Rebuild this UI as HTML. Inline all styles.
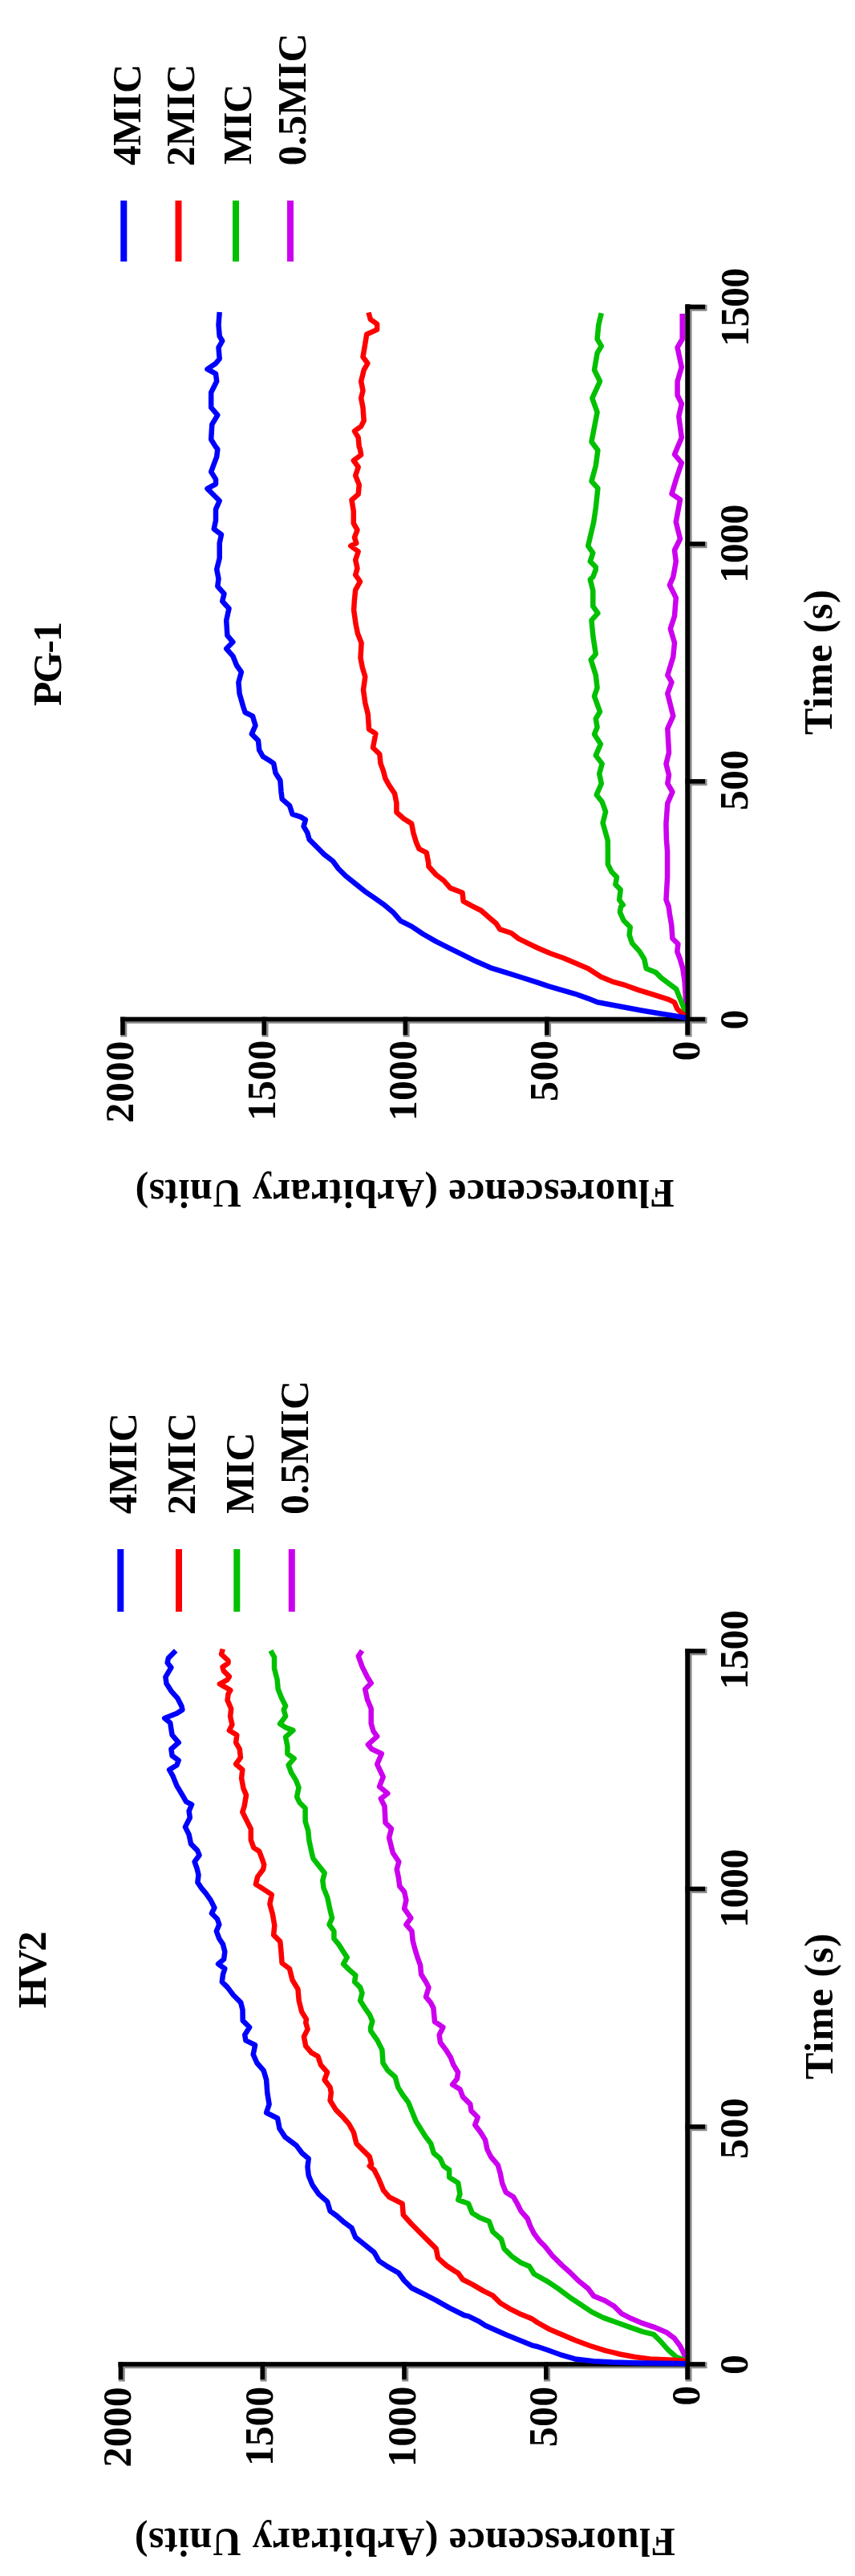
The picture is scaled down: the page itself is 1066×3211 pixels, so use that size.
<!DOCTYPE html>
<html><head><meta charset="utf-8"><style>
html,body{margin:0;padding:0;background:#fff;}
svg{display:block;}
text{font-family:"Liberation Serif", serif;font-weight:bold;fill:#000;}
</style></head><body>
<svg width="1066" height="3211" viewBox="0 0 1066 3211">
<rect width="1066" height="3211" fill="#fff"/>
<rect x="854.55" y="379.50" width="8.00" height="913.00" fill="#888"/>
<rect x="150.00" y="1267.75" width="731.50" height="8.00" fill="#888"/>
<rect x="854.55" y="379.75" width="26.95" height="8.00" fill="#888"/>
<rect x="854.55" y="675.25" width="26.95" height="8.00" fill="#888"/>
<rect x="854.55" y="971.25" width="26.95" height="8.00" fill="#888"/>
<rect x="150.25" y="1267.75" width="8.00" height="24.75" fill="#888"/>
<rect x="326.55" y="1267.75" width="8.00" height="24.75" fill="#888"/>
<rect x="502.65" y="1267.75" width="8.00" height="24.75" fill="#888"/>
<rect x="679.05" y="1267.75" width="8.00" height="24.75" fill="#888"/>
<rect x="854.55" y="379.50" width="5.50" height="910.50"/>
<rect x="150.00" y="1267.75" width="729.00" height="5.50"/>
<rect x="854.55" y="379.75" width="24.45" height="5.50"/>
<rect x="854.55" y="675.25" width="24.45" height="5.50"/>
<rect x="854.55" y="971.25" width="24.45" height="5.50"/>
<rect x="150.25" y="1267.75" width="5.50" height="22.25"/>
<rect x="326.55" y="1267.75" width="5.50" height="22.25"/>
<rect x="502.65" y="1267.75" width="5.50" height="22.25"/>
<rect x="679.05" y="1267.75" width="5.50" height="22.25"/>
<rect x="150.3" y="250" width="8" height="76" fill="#0000ff"/>
<rect x="218.5" y="250" width="8" height="76" fill="#ff0000"/>
<rect x="290.0" y="250" width="8" height="76" fill="#00c000"/>
<rect x="358.0" y="250" width="8" height="76" fill="#cc00ee"/>
<path d="M856.5,1265.0 L854.8,1242.3 L853.6,1223.6 L851.3,1207.2 L847.8,1195.5 L844.3,1186.1 L845.4,1176.8 L838.4,1169.8 L837.3,1153.4 L834.9,1139.4 L833.7,1130.0 L830.5,1121.6 L832.1,1093.2 L832.1,1061.6 L830.9,1046.3 L830.5,1030.0 L830.5,1025.8 L832.3,1001.2 L838.4,987.2 L832.3,976.7 L834.0,966.1 L830.5,952.1 L834.0,938.1 L832.3,908.2 L839.3,892.5 L832.3,864.4 L837.5,850.4 L832.3,841.6 L839.3,818.8 L841.0,801.2 L835.8,783.7 L841.0,767.9 L842.8,745.1 L834.9,729.3 L839.3,719.1 L841.0,710.0 L842.8,699.8 L841.0,685.8 L848.0,671.8 L842.8,650.7 L848.0,622.6 L837.5,615.6 L842.8,598.0 L849.8,577.0 L841.0,566.5 L849.8,545.4 L846.3,519.1 L849.8,503.3 L844.6,492.8 L844.6,475.3 L849.8,457.7 L844.6,433.2 L850.7,422.6 L850.7,391.0" stroke="#cc00ee" stroke-width="6.5" fill="none" stroke-linejoin="round" stroke-linecap="butt"/>
<path d="M856.5,1266.0 L852.5,1256.3 L847.8,1244.6 L843.1,1232.9 L833.7,1225.9 L824.4,1218.9 L817.4,1211.9 L805.7,1207.2 L803.3,1195.5 L797.5,1186.1 L788.1,1175.6 L784.6,1165.1 L785.8,1155.7 L777.6,1147.5 L772.9,1137.0 L774.1,1130.0 L776.8,1127.9 L772.1,1121.6 L773.7,1109.0 L767.4,1102.6 L769.0,1093.2 L762.6,1086.8 L757.9,1077.4 L757.9,1064.7 L757.8,1047.9 L751.6,1025.8 L755.1,1011.8 L750.7,999.5 L743.7,990.7 L749.8,976.7 L747.2,964.4 L750.7,952.1 L742.8,941.6 L748.9,927.5 L741.0,915.3 L744.6,906.5 L742.8,896.0 L748.0,887.2 L741.0,867.9 L744.6,857.4 L742.8,841.6 L736.7,822.3 L742.8,815.3 L739.3,792.5 L737.5,773.2 L745.4,764.4 L739.3,755.6 L739.3,736.3 L735.8,722.3 L739.3,719.1 L742.8,710.0 L742.8,706.8 L735.8,699.8 L739.3,689.3 L733.2,680.5 L740.2,650.7 L742.8,633.2 L745.4,608.6 L737.5,599.8 L742.8,580.5 L745.4,561.2 L737.5,550.7 L740.2,536.7 L744.6,513.9 L738.4,496.3 L748.0,475.3 L741.0,461.2 L744.6,440.2 L749.8,431.4 L744.6,422.6 L746.3,405.1 L749.8,390.2" stroke="#00c000" stroke-width="6.5" fill="none" stroke-linejoin="round" stroke-linecap="butt"/>
<path d="M856.5,1267.5 L850.1,1263.3 L844.3,1257.5 L840.8,1249.3 L833.7,1245.8 L815.0,1239.9 L796.3,1234.1 L779.9,1228.2 L763.6,1223.6 L749.5,1217.7 L733.2,1207.2 L716.8,1200.2 L702.7,1194.3 L686.4,1188.5 L670.0,1181.5 L658.4,1175.9 L646.7,1170.1 L637.4,1163.0 L623.3,1158.4 L618.7,1151.3 L609.3,1143.2 L599.9,1135.0 L588.2,1129.1 L577.7,1123.3 L576.5,1112.7 L561.3,1106.9 L553.2,1097.5 L543.8,1090.5 L534.4,1080.0 L534.2,1075.7 L531.8,1062.8 L522.5,1058.1 L518.9,1049.9 L515.4,1038.2 L513.1,1026.5 L503.7,1020.7 L494.4,1012.5 L494.4,1000.8 L492.0,989.1 L485.0,978.6 L480.4,970.4 L478.0,961.1 L474.5,951.7 L473.3,940.0 L465.0,932.0 L468.4,914.4 L460.0,909.1 L458.8,890.4 L455.3,876.3 L453.0,860.0 L455.3,843.6 L451.8,831.9 L449.5,820.2 L450.6,801.5 L446.0,789.8 L443.6,778.1 L441.1,760.2 L442.0,747.1 L443.2,735.4 L449.0,724.9 L443.2,716.7 L445.5,708.5 L443.2,698.0 L446.7,687.5 L437.3,680.5 L444.3,677.0 L442.0,669.9 L445.5,660.6 L440.8,652.4 L440.8,637.2 L438.5,623.2 L446.7,616.1 L447.8,604.4 L443.2,592.7 L446.7,582.2 L440.8,574.0 L450.2,567.0 L449.0,560.0 L447.8,557.1 L446.7,545.4 L442.0,537.3 L450.2,531.4 L453.7,524.4 L452.5,508.0 L450.2,496.3 L452.5,487.0 L450.2,475.3 L453.7,461.2 L458.4,453.0 L452.5,444.9 L454.9,430.8 L457.2,416.8 L470.1,410.9 L470.1,403.9 L461.9,398.1 L459.5,389.5" stroke="#ff0000" stroke-width="6.5" fill="none" stroke-linejoin="round" stroke-linecap="butt"/>
<path d="M857.1,1269.2 L840.8,1266.1 L822.0,1263.3 L801.0,1259.8 L782.3,1256.3 L763.6,1252.8 L744.9,1249.3 L733.2,1244.6 L716.8,1238.8 L700.4,1234.1 L684.0,1229.4 L670.0,1224.7 L649.1,1218.0 L630.4,1212.2 L611.6,1206.3 L592.9,1198.1 L576.5,1189.9 L560.2,1181.8 L543.8,1173.6 L527.4,1164.2 L513.4,1154.9 L499.4,1147.8 L489.9,1136.9 L478.0,1127.1 L466.3,1118.9 L454.6,1110.8 L442.9,1101.4 L431.2,1092.0 L421.9,1082.7 L414.9,1073.3 L404.3,1065.1 L395.0,1055.8 L385.6,1046.4 L383.3,1038.2 L378.6,1030.1 L380.9,1021.9 L375.1,1018.4 L364.6,1014.9 L361.1,1004.3 L351.7,996.1 L350.5,986.8 L349.4,972.7 L343.5,963.4 L341.2,951.7 L337.2,948.8 L327.8,943.0 L323.2,934.8 L322.0,923.1 L313.8,914.9 L318.5,904.4 L315.0,892.7 L305.6,888.0 L303.3,881.0 L298.6,864.6 L297.4,850.6 L300.9,837.7 L295.1,829.5 L290.4,817.8 L282.2,808.5 L290.4,800.3 L283.4,792.1 L282.2,773.4 L285.5,758.5 L277.2,749.5 L279.5,740.1 L271.3,730.8 L272.5,721.4 L270.2,709.7 L273.7,695.7 L273.7,677.0 L276.0,666.4 L266.7,659.4 L269.0,648.9 L269.0,634.9 L273.7,624.3 L266.7,617.3 L258.5,609.1 L269.0,603.3 L269.0,597.4 L263.2,588.1 L266.7,578.7 L270.2,569.4 L271.3,560.0 L269.0,557.1 L263.2,547.8 L264.3,529.1 L271.3,517.4 L263.2,508.0 L263.2,489.3 L270.2,475.3 L269.0,465.9 L258.5,460.1 L269.0,453.0 L273.7,447.2 L272.5,433.2 L277.2,425.0 L273.7,419.1 L272.5,405.1 L273.7,389.0" stroke="#0000ff" stroke-width="6.5" fill="none" stroke-linejoin="round" stroke-linecap="butt"/>
<rect x="854.55" y="379.50" width="5.50" height="910.50"/>
<text transform="translate(174.6,143.1) rotate(-90)" text-anchor="middle" font-size="50" textLength="126.21" lengthAdjust="spacing">4MIC</text>
<text transform="translate(242.0,143.6) rotate(-90)" text-anchor="middle" font-size="50" textLength="127.33" lengthAdjust="spacing">2MIC</text>
<text transform="translate(313.0,154.75) rotate(-90)" text-anchor="middle" font-size="50" textLength="100.26" lengthAdjust="spacing">MIC</text>
<text transform="translate(381.0,123.95) rotate(-90)" text-anchor="middle" font-size="50" textLength="165.25" lengthAdjust="spacing">0.5MIC</text>
<text transform="translate(75.6,827.45) rotate(-90)" text-anchor="middle" font-size="50" textLength="105.14" lengthAdjust="spacing">PG-1</text>
<text transform="translate(165.8,1348.7) rotate(-90)" text-anchor="middle" font-size="50" textLength="102.19" lengthAdjust="spacing">2000</text>
<text transform="translate(342.9,1346.8) rotate(-90)" text-anchor="middle" font-size="50" textLength="100.5" lengthAdjust="spacing">1500</text>
<text transform="translate(519.0,1347.0) rotate(-90)" text-anchor="middle" font-size="50" textLength="100.43" lengthAdjust="spacing">1000</text>
<text transform="translate(695.0,1334.9) rotate(-90)" text-anchor="middle" font-size="50" textLength="76.33" lengthAdjust="spacing">500</text>
<text transform="translate(872.0,1310.05) rotate(-90)" text-anchor="middle" font-size="50" textLength="16.68" lengthAdjust="spacing">0</text>
<text transform="translate(932.4,1271.0) rotate(-90)" text-anchor="middle" font-size="50" textLength="29.87" lengthAdjust="spacing">0</text>
<text transform="translate(932.4,972.5) rotate(-90)" text-anchor="middle" font-size="50" textLength="75.3" lengthAdjust="spacing">500</text>
<text transform="translate(932.3,677.65) rotate(-90)" text-anchor="middle" font-size="50" textLength="98.38" lengthAdjust="spacing">1000</text>
<text transform="translate(932.8,382.8) rotate(-90)" text-anchor="middle" font-size="50" textLength="98.36" lengthAdjust="spacing">1500</text>
<text transform="translate(1037.0,825.5) rotate(-90)" text-anchor="middle" font-size="50" textLength="181.05" lengthAdjust="spacing">Time (s)</text>
<text transform="translate(504.65,1470.6) rotate(180)" text-anchor="middle" font-size="50" textLength="672.02" lengthAdjust="spacing">Fluorescence (Arbitrary Units)</text>
<rect x="854.55" y="2055.00" width="8.00" height="913.50" fill="#888"/>
<rect x="147.50" y="2944.25" width="734.00" height="8.00" fill="#888"/>
<rect x="854.55" y="2055.25" width="26.95" height="8.00" fill="#888"/>
<rect x="854.55" y="2351.75" width="26.95" height="8.00" fill="#888"/>
<rect x="854.55" y="2648.25" width="26.95" height="8.00" fill="#888"/>
<rect x="147.75" y="2944.25" width="8.00" height="24.25" fill="#888"/>
<rect x="324.55" y="2944.25" width="8.00" height="24.25" fill="#888"/>
<rect x="501.25" y="2944.25" width="8.00" height="24.25" fill="#888"/>
<rect x="678.05" y="2944.25" width="8.00" height="24.25" fill="#888"/>
<rect x="854.55" y="2055.00" width="5.50" height="911.00"/>
<rect x="147.50" y="2944.25" width="731.50" height="5.50"/>
<rect x="854.55" y="2055.25" width="24.45" height="5.50"/>
<rect x="854.55" y="2351.75" width="24.45" height="5.50"/>
<rect x="854.55" y="2648.25" width="24.45" height="5.50"/>
<rect x="147.75" y="2944.25" width="5.50" height="21.75"/>
<rect x="324.55" y="2944.25" width="5.50" height="21.75"/>
<rect x="501.25" y="2944.25" width="5.50" height="21.75"/>
<rect x="678.05" y="2944.25" width="5.50" height="21.75"/>
<rect x="146.3" y="1931" width="8" height="78" fill="#0000ff"/>
<rect x="219.0" y="1931" width="8" height="78" fill="#ff0000"/>
<rect x="291.3" y="1931" width="8" height="78" fill="#00c000"/>
<rect x="359.8" y="1931" width="8" height="78" fill="#cc00ee"/>
<path d="M856.5,2945.0 L854.8,2940.4 L852.5,2933.3 L847.8,2924.0 L840.8,2914.6 L831.4,2907.6 L815.0,2900.6 L801.0,2895.9 L787.0,2890.1 L775.3,2884.2 L765.9,2874.9 L754.2,2867.8 L740.2,2862.0 L733.2,2852.6 L721.5,2843.3 L710.9,2832.7 L700.4,2823.4 L688.7,2811.7 L679.4,2800.0 L672.9,2793.6 L665.9,2784.2 L661.2,2774.9 L657.7,2765.5 L649.5,2756.1 L644.9,2746.8 L640.2,2738.6 L630.8,2732.7 L626.1,2721.1 L623.8,2709.4 L620.8,2698.9 L612.0,2688.4 L607.4,2679.1 L605.0,2667.4 L599.2,2658.0 L592.2,2648.7 L595.7,2639.3 L587.5,2631.1 L586.3,2622.9 L577.0,2613.6 L573.5,2604.2 L564.1,2598.4 L569.9,2591.3 L571.1,2583.2 L565.3,2573.8 L561.8,2564.4 L555.9,2555.1 L548.9,2545.7 L547.7,2536.4 L552.4,2527.0 L541.9,2520.0 L541.5,2514.8 L540.4,2503.1 L536.8,2496.1 L531.0,2489.1 L534.5,2477.4 L531.0,2470.4 L525.1,2461.0 L524.0,2449.3 L520.5,2439.9 L517.0,2428.2 L514.6,2418.9 L513.5,2407.2 L506.4,2399.0 L512.3,2390.8 L504.1,2379.1 L506.4,2368.6 L504.1,2358.1 L498.2,2351.1 L497.1,2341.7 L494.7,2330.0 L497.3,2320.7 L489.8,2309.5 L485.1,2290.7 L488.0,2279.5 L480.5,2272.0 L479.5,2251.5 L474.8,2242.1 L483.3,2235.5 L473.0,2227.1 L477.7,2215.0 L470.2,2199.1 L475.8,2186.0 L463.6,2180.3 L458.9,2174.7 L470.2,2164.4 L465.5,2157.9 L462.7,2148.5 L462.7,2129.8 L458.0,2118.6 L455.2,2105.5 L462.7,2098.0 L458.0,2090.5 L451.5,2077.4 L446.8,2064.3 L451.5,2057.5" stroke="#cc00ee" stroke-width="6.5" fill="none" stroke-linejoin="round" stroke-linecap="butt"/>
<path d="M856.5,2945.0 L852.5,2941.5 L843.1,2938.0 L833.7,2929.8 L824.4,2919.3 L815.0,2909.9 L801.0,2906.4 L784.6,2900.6 L768.2,2894.7 L751.9,2888.9 L737.8,2881.9 L723.8,2872.5 L709.8,2863.2 L695.7,2852.6 L681.7,2843.3 L665.9,2834.5 L660.1,2825.1 L649.5,2820.5 L637.8,2812.3 L628.5,2802.9 L625.0,2791.2 L614.4,2781.9 L609.8,2769.0 L598.1,2764.3 L588.7,2758.5 L584.0,2746.8 L571.2,2742.1 L573.5,2735.1 L571.2,2721.1 L560.1,2714.0 L560.1,2704.7 L553.1,2700.0 L548.9,2690.8 L540.7,2683.7 L537.2,2672.0 L530.2,2662.7 L524.3,2653.3 L518.5,2644.0 L513.8,2632.3 L509.1,2620.6 L502.1,2611.2 L496.3,2601.9 L492.7,2589.0 L483.4,2580.8 L477.5,2571.5 L476.4,2555.1 L470.5,2543.4 L462.3,2531.7 L462.0,2527.7 L464.3,2519.5 L460.8,2511.3 L455.0,2503.1 L449.1,2493.7 L451.5,2484.4 L449.1,2477.4 L442.1,2470.4 L443.3,2462.2 L435.1,2455.1 L428.1,2448.1 L432.7,2439.9 L428.1,2432.9 L422.2,2423.6 L416.4,2416.5 L416.4,2407.2 L410.5,2399.0 L414.0,2390.8 L411.7,2381.5 L408.2,2365.1 L403.5,2353.4 L402.3,2344.0 L404.7,2334.7 L390.5,2316.7 L388.8,2310.1 L385.3,2293.7 L384.2,2282.0 L380.6,2270.4 L380.6,2254.0 L373.6,2247.0 L370.1,2239.9 L372.5,2228.2 L368.9,2218.9 L363.1,2209.5 L359.6,2200.2 L366.6,2192.0 L358.4,2186.1 L358.4,2176.8 L356.1,2165.1 L365.4,2156.9 L356.1,2153.4 L349.1,2148.7 L356.1,2139.4 L353.7,2131.2 L356.1,2126.5 L351.4,2117.2 L346.7,2105.5 L345.6,2093.8 L342.0,2079.8 L342.0,2065.7 L337.4,2057.5" stroke="#00c000" stroke-width="6.5" fill="none" stroke-linejoin="round" stroke-linecap="butt"/>
<path d="M856.0,2942.7 L833.7,2941.5 L810.4,2940.4 L791.6,2938.0 L772.9,2934.5 L754.2,2929.8 L735.5,2924.0 L716.8,2917.0 L700.4,2909.9 L684.0,2902.9 L670.0,2895.0 L663.6,2890.6 L649.5,2884.8 L635.5,2877.8 L623.8,2870.8 L614.4,2861.4 L602.7,2855.6 L588.7,2847.4 L577.0,2841.5 L571.2,2833.3 L567.1,2831.0 L556.6,2824.0 L546.1,2814.6 L543.7,2802.9 L534.4,2793.6 L525.0,2784.2 L513.3,2772.5 L502.8,2760.8 L501.6,2746.8 L485.3,2738.6 L478.2,2730.4 L472.4,2716.4 L466.5,2704.7 L460.7,2700.0 L463.1,2697.8 L460.8,2688.4 L453.7,2681.4 L444.4,2672.0 L440.9,2658.0 L435.0,2647.5 L428.0,2639.3 L418.7,2629.9 L411.6,2618.2 L412.8,2608.9 L411.6,2601.9 L404.6,2592.5 L408.1,2583.2 L399.9,2573.8 L396.4,2563.3 L388.2,2558.6 L381.2,2550.4 L378.9,2538.7 L383.6,2529.4 L381.2,2521.2 L382.0,2517.1 L376.2,2507.8 L372.7,2493.7 L371.5,2479.7 L364.5,2468.0 L361.0,2454.0 L351.6,2447.0 L350.5,2432.9 L349.3,2420.1 L341.1,2411.9 L342.3,2400.2 L339.9,2386.1 L336.4,2373.3 L338.8,2361.6 L328.2,2354.6 L318.9,2348.7 L321.2,2339.4 L328.2,2330.0 L329.2,2324.2 L326.8,2317.1 L323.3,2307.8 L316.3,2303.1 L312.8,2293.7 L312.8,2279.7 L308.1,2270.4 L302.3,2258.7 L304.6,2251.6 L307.0,2237.6 L303.5,2229.4 L301.1,2216.5 L302.3,2206.0 L294.1,2199.0 L299.9,2190.8 L298.8,2180.3 L294.1,2172.1 L295.3,2162.7 L285.9,2156.9 L289.4,2149.9 L287.1,2139.4 L288.2,2130.0 L283.6,2119.4 L284.5,2111.7 L287.3,2106.8 L277.5,2101.1 L273.9,2099.0 L283.1,2094.1 L285.9,2089.9 L278.9,2082.9 L277.5,2078.0 L284.5,2073.1 L284.5,2070.0 L276.0,2062.0 L277.8,2055.5" stroke="#ff0000" stroke-width="6.5" fill="none" stroke-linejoin="round" stroke-linecap="butt"/>
<path d="M856.0,2946.3 L798.7,2945.5 L763.6,2944.6 L740.2,2943.2 L716.8,2940.4 L700.4,2935.7 L684.0,2929.8 L670.0,2925.0 L664.8,2923.9 L630.9,2910.3 L605.1,2898.8 L598.1,2894.2 L584.0,2887.1 L578.8,2886.0 L560.1,2876.6 L543.7,2867.3 L529.7,2860.2 L513.3,2852.0 L504.0,2842.7 L497.0,2833.3 L482.9,2825.1 L472.4,2818.1 L466.5,2807.6 L454.9,2798.2 L443.2,2788.9 L438.5,2777.2 L429.1,2770.2 L419.8,2762.0 L411.6,2756.1 L408.1,2744.4 L397.5,2735.1 L389.4,2723.4 L384.7,2711.7 L383.5,2701.2 L384.7,2690.8 L376.5,2683.7 L369.5,2674.4 L355.5,2663.9 L348.5,2653.3 L346.1,2640.5 L332.1,2633.5 L335.6,2622.9 L333.3,2608.9 L332.1,2592.5 L328.6,2580.8 L320.4,2571.5 L315.7,2560.9 L318.1,2549.2 L306.4,2543.4 L305.2,2536.4 L311.1,2527.0 L302.7,2518.6 L302.5,2505.4 L300.2,2496.1 L290.8,2486.7 L283.8,2477.4 L276.8,2470.4 L278.0,2461.0 L280.3,2454.0 L272.1,2448.1 L279.1,2442.3 L280.3,2432.9 L278.0,2423.6 L273.3,2416.5 L269.8,2407.2 L273.3,2399.0 L270.9,2392.0 L263.9,2385.0 L267.4,2378.0 L262.7,2368.6 L256.9,2360.4 L251.1,2353.4 L246.4,2346.4 L247.5,2337.0 L245.7,2329.4 L242.6,2320.6 L248.5,2312.5 L246.1,2306.6 L238.0,2298.4 L235.6,2286.7 L230.9,2277.4 L236.8,2265.7 L235.6,2257.5 L239.1,2249.3 L232.1,2245.8 L227.4,2237.6 L220.4,2225.9 L215.7,2214.2 L211.1,2206.0 L220.4,2200.2 L222.7,2194.3 L214.6,2188.5 L213.4,2180.3 L222.7,2172.1 L214.6,2162.7 L212.2,2147.5 L205.2,2141.7 L220.4,2135.8 L227.4,2131.2 L226.3,2126.5 L221.6,2117.2 L213.4,2107.8 L207.5,2098.5 L206.4,2090.3 L213.4,2078.6 L208.7,2072.7 L209.9,2066.9 L219.2,2057.5" stroke="#0000ff" stroke-width="6.5" fill="none" stroke-linejoin="round" stroke-linecap="butt"/>
<rect x="854.55" y="2055.00" width="5.50" height="911.00"/>
<text transform="translate(169.6,1824.15) rotate(-90)" text-anchor="middle" font-size="50" textLength="126.23" lengthAdjust="spacing">4MIC</text>
<text transform="translate(243.0,1824.65) rotate(-90)" text-anchor="middle" font-size="50" textLength="127.31" lengthAdjust="spacing">2MIC</text>
<text transform="translate(315.6,1836.15) rotate(-90)" text-anchor="middle" font-size="50" textLength="101.31" lengthAdjust="spacing">MIC</text>
<text transform="translate(384.0,1804.5) rotate(-90)" text-anchor="middle" font-size="50" textLength="167.23" lengthAdjust="spacing">0.5MIC</text>
<text transform="translate(56.9,2455.2) rotate(-90)" text-anchor="middle" font-size="50" textLength="96.11" lengthAdjust="spacing">HV2</text>
<text transform="translate(163.0,3025.3) rotate(-90)" text-anchor="middle" font-size="50" textLength="100.17" lengthAdjust="spacing">2000</text>
<text transform="translate(340.3,3024.4) rotate(-90)" text-anchor="middle" font-size="50" textLength="99.44" lengthAdjust="spacing">1500</text>
<text transform="translate(517.5,3024.8) rotate(-90)" text-anchor="middle" font-size="50" textLength="100.41" lengthAdjust="spacing">1000</text>
<text transform="translate(694.0,3012.5) rotate(-90)" text-anchor="middle" font-size="50" textLength="75.3" lengthAdjust="spacing">500</text>
<text transform="translate(872.0,2986.25) rotate(-90)" text-anchor="middle" font-size="50" textLength="15.86" lengthAdjust="spacing">0</text>
<text transform="translate(932.4,2947.5) rotate(-90)" text-anchor="middle" font-size="50" textLength="21.39" lengthAdjust="spacing">0</text>
<text transform="translate(932.4,2653.0) rotate(-90)" text-anchor="middle" font-size="50" textLength="76.27" lengthAdjust="spacing">500</text>
<text transform="translate(932.3,2353.75) rotate(-90)" text-anchor="middle" font-size="50" textLength="98.39" lengthAdjust="spacing">1000</text>
<text transform="translate(932.3,2056.4) rotate(-90)" text-anchor="middle" font-size="50" textLength="99.41" lengthAdjust="spacing">1500</text>
<text transform="translate(1038.0,2501.0) rotate(-90)" text-anchor="middle" font-size="50" textLength="182.04" lengthAdjust="spacing">Time (s)</text>
<text transform="translate(504.95,3152.4) rotate(180)" text-anchor="middle" font-size="50" textLength="674.03" lengthAdjust="spacing">Fluorescence (Arbitrary Units)</text>
</svg>
</body></html>
